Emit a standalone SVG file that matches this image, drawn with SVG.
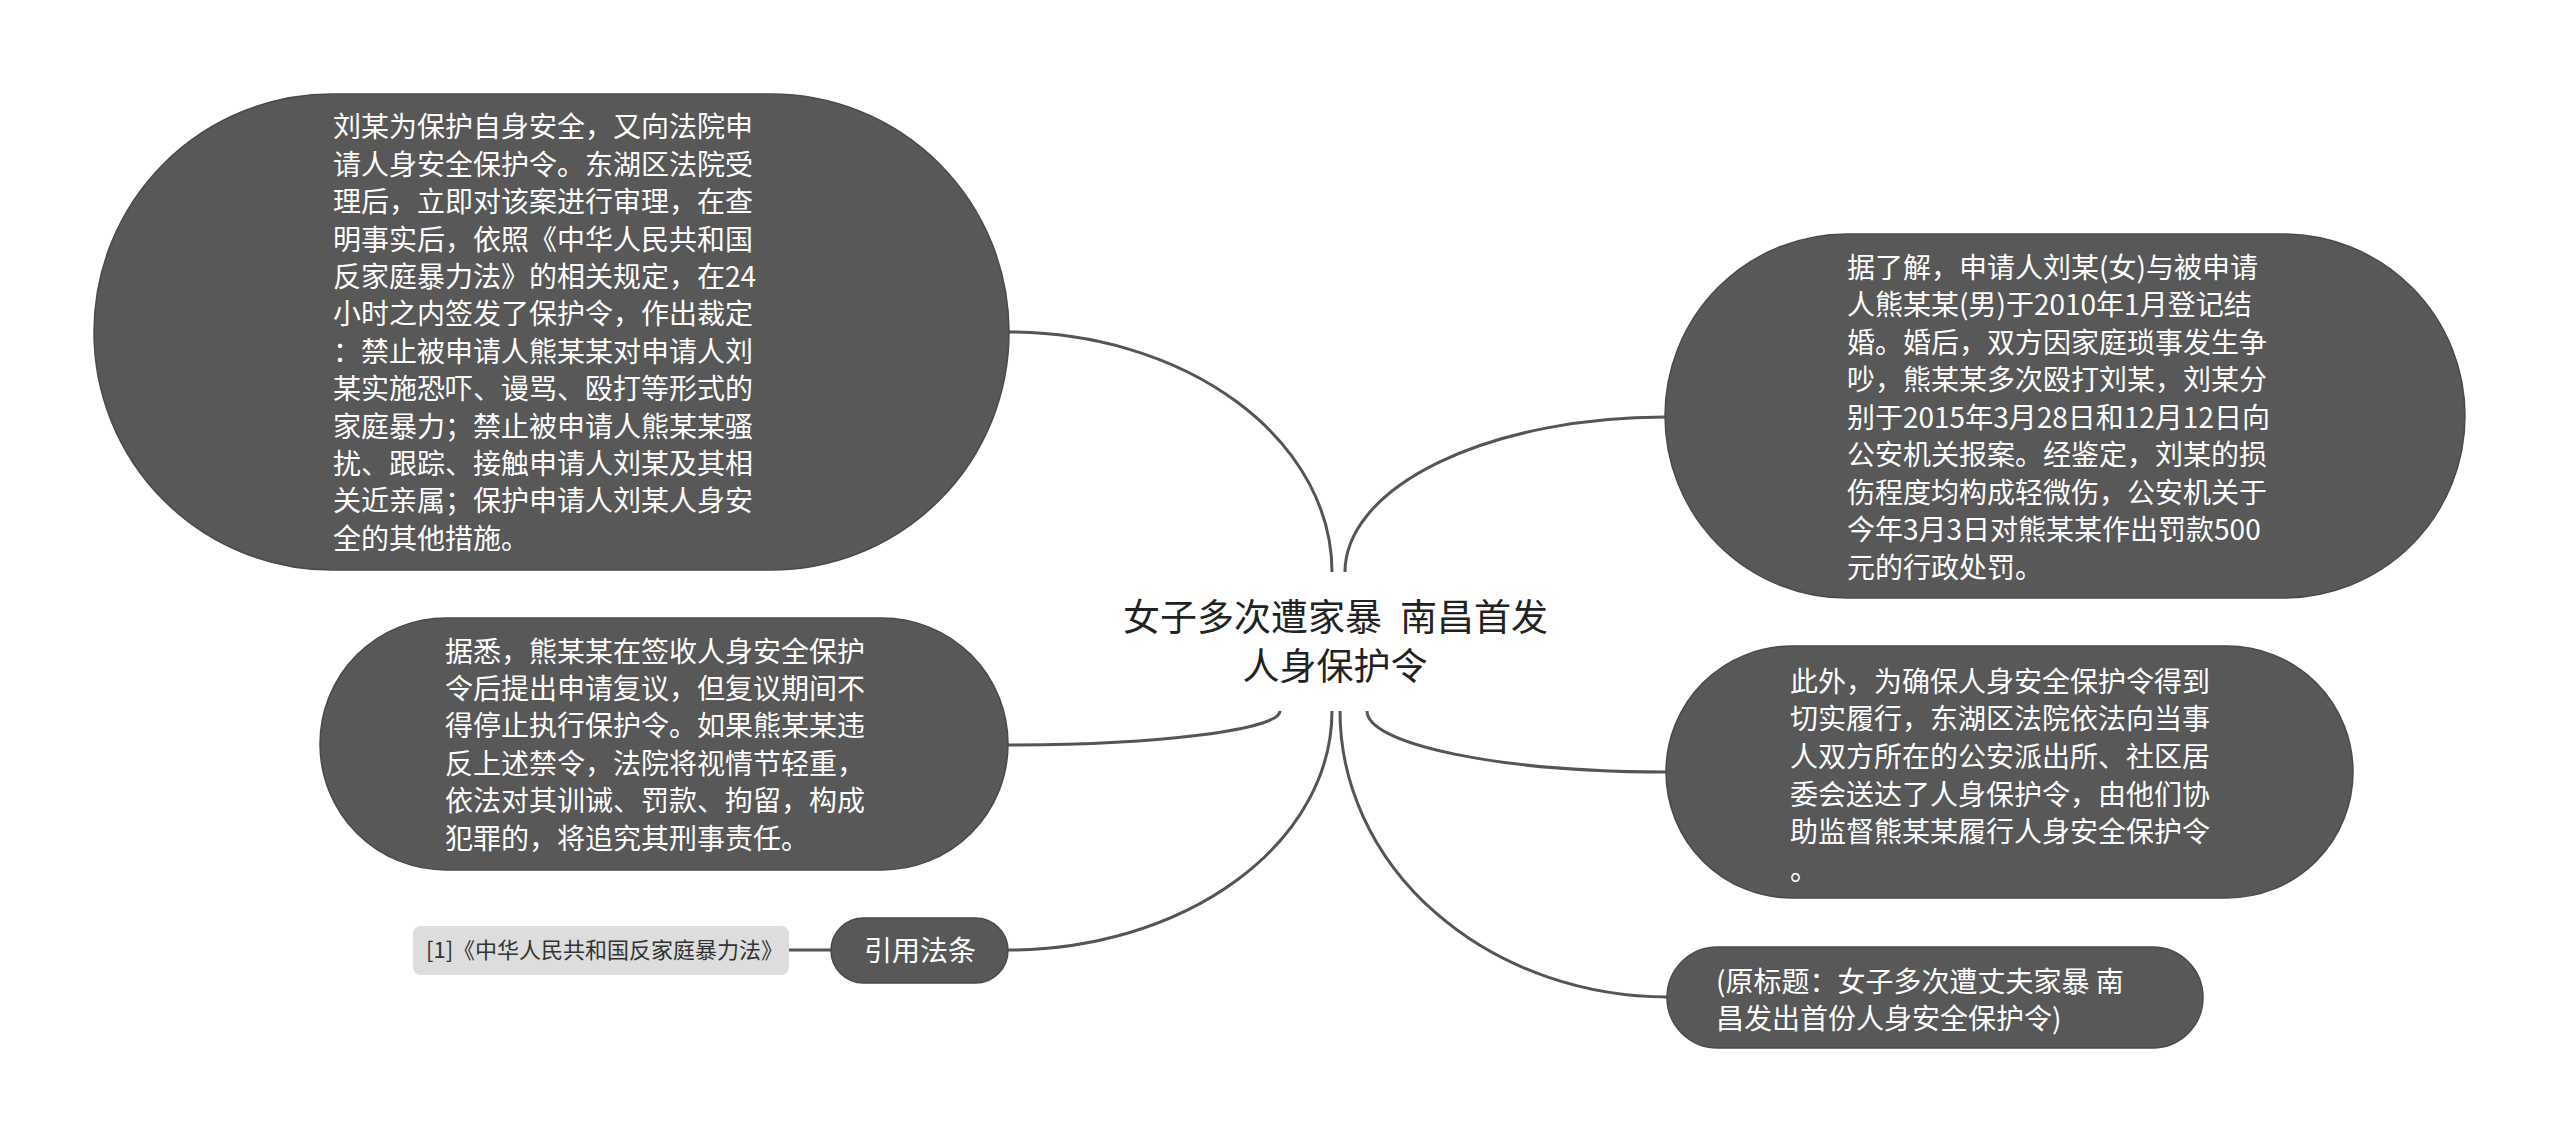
<svg xmlns="http://www.w3.org/2000/svg" width="2560" height="1143" viewBox="0 0 2560 1143">
<style>
.node{fill:#585858;stroke:#4a4a4a;stroke-width:1.5}
.t{font-family:'Noto Sans CJK SC','Noto Sans',sans-serif;font-size:28px;fill:#ffffff}
.title{font-family:'Noto Sans CJK SC','Noto Sans',sans-serif;font-size:37px;fill:#222222}
.cite{font-family:'Noto Sans CJK SC','Noto Sans',sans-serif;font-size:22px;fill:#333333}
.conn{fill:none;stroke:#555555;stroke-width:3}
</style>
<rect width="2560" height="1143" fill="#ffffff"/>
<g id="connectors">
<path class="conn" d="M1009,332 A323,240 0 0 1 1332,572"/>
<path class="conn" d="M1345,572 A320,155 0 0 1 1665,417"/>
<path class="conn" d="M1008,745 A272,34 0 0 0 1280,711"/>
<path class="conn" d="M1008,950 A324,239 0 0 0 1332,711"/>
<path class="conn" d="M1666,772 A299,61 0 0 1 1367,711"/>
<path class="conn" d="M1668,997 A328,286 0 0 1 1340,711"/>
<path class="conn" d="M789,950 L831,950"/>
</g>
<g id="center">
<text class="title" y="631"><tspan x="1123">女子多次遭家暴</tspan><tspan x="1400">南昌首发</tspan></text>
<text class="title" x="1335" y="680" text-anchor="middle">人身保护令</text>
</g>
<g id="node-left-1">
<rect class="node" x="94" y="94" width="915" height="476" rx="238" ry="238"/>
<text class="t" x="333" y="137.3">刘某为保护自身安全，又向法院申</text>
<text class="t" x="333" y="174.7">请人身安全保护令。东湖区法院受</text>
<text class="t" x="333" y="212.1">理后，立即对该案进行审理，在查</text>
<text class="t" x="333" y="249.5">明事实后，依照《中华人民共和国</text>
<text class="t" x="333" y="286.9">反家庭暴力法》的相关规定，在24</text>
<text class="t" x="333" y="324.3">小时之内签发了保护令，作出裁定</text>
<text class="t" x="333" y="361.7">：禁止被申请人熊某某对申请人刘</text>
<text class="t" x="333" y="399.1">某实施恐吓、谩骂、殴打等形式的</text>
<text class="t" x="333" y="436.5">家庭暴力；禁止被申请人熊某某骚</text>
<text class="t" x="333" y="473.9">扰、跟踪、接触申请人刘某及其相</text>
<text class="t" x="333" y="511.3">关近亲属；保护申请人刘某人身安</text>
<text class="t" x="333" y="548.7">全的其他措施。</text>
</g>
<g id="node-left-2">
<rect class="node" x="320" y="618" width="688" height="252" rx="126" ry="126"/>
<text class="t" x="445" y="661.6">据悉，熊某某在签收人身安全保护</text>
<text class="t" x="445" y="699">令后提出申请复议，但复议期间不</text>
<text class="t" x="445" y="736.4">得停止执行保护令。如果熊某某违</text>
<text class="t" x="445" y="773.8">反上述禁令，法院将视情节轻重，</text>
<text class="t" x="445" y="811.2">依法对其训诫、罚款、拘留，构成</text>
<text class="t" x="445" y="848.6">犯罪的，将追究其刑事责任。</text>
</g>
<g id="node-citation">
<rect x="413" y="926" width="376" height="49" rx="8" ry="8" fill="#dddddd"/>
<text class="cite" x="426" y="958.4">[1]《中华人民共和国反家庭暴力法》</text>
</g>
<g id="node-law">
<rect class="node" x="831" y="918" width="177" height="65" rx="32.5" ry="32.5"/>
<text class="t" x="920" y="960.6" text-anchor="middle">引用法条</text>
</g>
<g id="node-right-1">
<rect class="node" x="1665" y="234" width="800" height="364" rx="182" ry="182"/>
<text class="t" x="1847" y="277.6">据了解，申请人刘某(女)与被申请</text>
<text class="t" x="1847" y="315.1">人熊某某(男)于2010年1月登记结</text>
<text class="t" x="1847" y="352.6">婚。婚后，双方因家庭琐事发生争</text>
<text class="t" x="1847" y="390.1">吵，熊某某多次殴打刘某，刘某分</text>
<text class="t" x="1847" y="427.6">别于2015年3月28日和12月12日向</text>
<text class="t" x="1847" y="465.1">公安机关报案。经鉴定，刘某的损</text>
<text class="t" x="1847" y="502.6">伤程度均构成轻微伤，公安机关于</text>
<text class="t" x="1847" y="540.1">今年3月3日对熊某某作出罚款500</text>
<text class="t" x="1847" y="577.6">元的行政处罚。</text>
</g>
<g id="node-right-2">
<rect class="node" x="1666" y="646" width="687" height="252" rx="126" ry="126"/>
<text class="t" x="1790" y="691.6">此外，为确保人身安全保护令得到</text>
<text class="t" x="1790" y="729.3">切实履行，东湖区法院依法向当事</text>
<text class="t" x="1790" y="767">人双方所在的公安派出所、社区居</text>
<text class="t" x="1790" y="804.7">委会送达了人身保护令，由他们协</text>
<text class="t" x="1790" y="842.4">助监督熊某某履行人身安全保护令</text>
<text class="t" x="1790" y="880.1">。</text>
</g>
<g id="node-right-3">
<rect class="node" x="1667" y="947" width="536" height="101" rx="50.5" ry="50.5"/>
<text class="t" x="1716" y="991.6">(原标题：女子多次遭丈夫家暴 南</text>
<text class="t" x="1716" y="1028.6">昌发出首份人身安全保护令)</text>
</g>
</svg>
